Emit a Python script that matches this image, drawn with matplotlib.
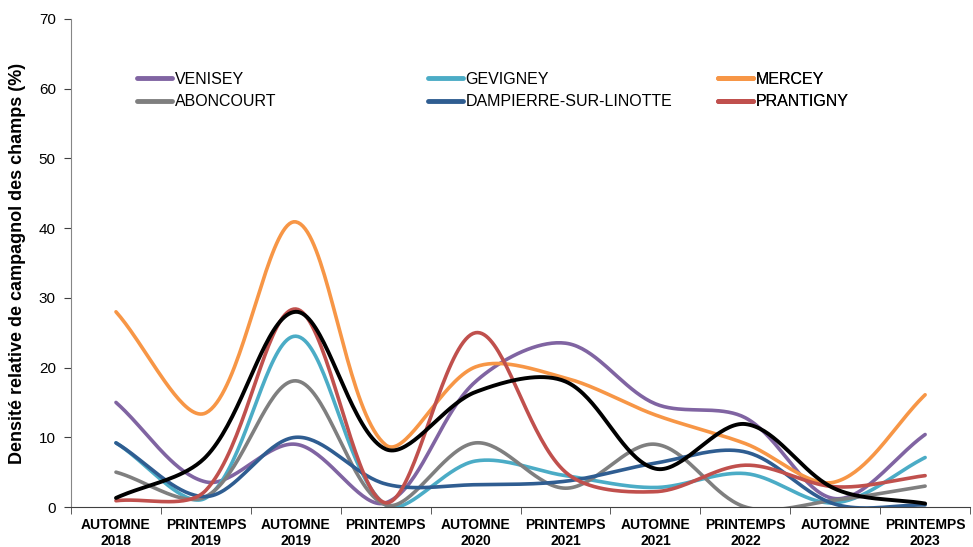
import numpy as np
import matplotlib
matplotlib.use('Agg')
import matplotlib.pyplot as plt
from matplotlib.lines import Line2D

plt.rcParams['font.family'] = ['Liberation Sans', 'DejaVu Sans']

periods = ['AUTOMNE\n2018', 'PRINTEMPS\n2019', 'AUTOMNE\n2019', 'PRINTEMPS\n2020', 'AUTOMNE\n2020',
           'PRINTEMPS\n2021', 'AUTOMNE\n2021', 'PRINTEMPS\n2022', 'AUTOMNE\n2022', 'PRINTEMPS\n2023']

venisey = [15, 3.6, 9.0, 0.6, 18, 23.5, 14.8, 12.8, 1.2, 10.4]
gevigney = [9.2, 1.3, 24.5, 0.3, 6.6, 4.5, 2.8, 4.8, 0.6, 7.1]
mercey = [28, 13.5, 40.9, 8.9, 20.1, 18.5, 13.2, 9.1, 3.6, 16.1]
aboncourt = [5.0, 1.5, 18.1, 0.3, 9.2, 2.7, 9.0, 0.0, 1.0, 3.0]
dampierre = [9.2, 1.5, 10.0, 3.3, 3.2, 3.7, 6.3, 7.9, 0.4, 0.3]
prantigny = [0.9, 2.4, 28.4, 0.6, 25, 5.0, 2.2, 6.0, 2.9, 4.5]
moyenne = [1.3, 7.2, 28, 8.3, 16.5, 18, 5.5, 11.9, 2.6, 0.5]

series = [
    ('VENISEY', venisey, '#8064A2'),
    ('ABONCOURT', aboncourt, '#7F7F7F'),
    ('GEVIGNEY', gevigney, '#4BACC6'),
    ('DAMPIERRE-SUR-LINOTTE', dampierre, '#2F5D91'),
    ('MERCEY', mercey, '#F79646'),
    ('PRANTIGNY', prantigny, '#C0504D'),
]

# pixel size of one category / one percent, used to weight the smoothing like Excel
XPX, YPX = 90.4, 6.97


def smooth(y, n=40, t=1/3):
    # smoothed line: cubic bezier, tangents weighted by segment lengths (in pixels)
    x = np.arange(len(y), dtype=float) * XPX
    y = np.asarray(y, dtype=float) * YPX
    P = np.column_stack([x, y])
    m = len(P)
    cin = np.zeros_like(P)
    cout = np.zeros_like(P)
    for i in range(m):
        prv = P[max(i - 1, 0)]
        nxt = P[min(i + 1, m - 1)]
        d_in = np.hypot(*(P[i] - prv))
        d_out = np.hypot(*(nxt - P[i]))
        tan = nxt - prv
        tot = d_in + d_out
        cin[i] = P[i] - tan * t * d_in / tot
        cout[i] = P[i] + tan * t * d_out / tot
    s = np.linspace(0, 1, n)[:, None]
    pts = []
    for i in range(m - 1):
        b = (1 - s) ** 3 * P[i] + 3 * (1 - s) ** 2 * s * cout[i] \
            + 3 * (1 - s) * s ** 2 * cin[i + 1] + s ** 3 * P[i + 1]
        pts.append(b)
    pts = np.vstack(pts)
    return pts[:, 0] / XPX, pts[:, 1] / YPX


fig = plt.figure(figsize=(9.73, 5.47), dpi=100)
ax = fig.add_axes([0.073, 0.0731, 0.924, 0.8922])

order = [0, 2, 4, 1, 3, 5]
for k in order:
    name, vals, col = series[k]
    sx, sy = smooth(vals)
    ax.plot(sx, sy, color=col, linewidth=2.6, solid_capstyle='round')
sx, sy = smooth(moyenne)
ax.plot(sx, sy, color='black', linewidth=2.8, solid_capstyle='round')

ax.set_xlim(-0.5, 9.5)
ax.set_ylim(0, 70)
ax.set_yticks(np.arange(0, 71, 10))
ax.set_xticks(np.arange(10))
ax.set_xticklabels(periods, fontweight='bold', fontsize=10, linespacing=1.15)
ax.set_xticks(np.arange(-0.5, 10, 1), minor=True)
ax.tick_params(axis='x', which='major', length=0, pad=8)
ax.tick_params(axis='x', which='minor', length=5, color='#404040')
ax.tick_params(axis='y', labelsize=11, length=5, color='#404040', pad=6)
for s in ['top', 'right']:
    ax.spines[s].set_visible(False)
ax.spines['left'].set_color('#868686')
ax.spines['bottom'].set_color('#404040')
ax.set_ylabel('Densité relative de campagnol des champs (%)', fontsize=13, fontweight='bold', labelpad=9)

# legend in three columns placed like the original
cols_x = [0.141, 0.440, 0.738]
for c in range(3):
    hs = []
    for k in (2 * c, 2 * c + 1):
        name, vals, col = series[k]
        hs.append(Line2D([], [], color=col, linewidth=3.5, solid_capstyle='round', label=name))
    leg = ax.legend(handles=hs, loc='upper left', bbox_to_anchor=(cols_x[c], 0.8684),
                    bbox_transform=fig.transFigure, frameon=False, fontsize=11.5,
                    handlelength=2.2, handletextpad=0.15, labelspacing=0.45,
                    borderaxespad=0, borderpad=0)
    ax.add_artist(leg)

fig.savefig('out.png', dpi=100)
